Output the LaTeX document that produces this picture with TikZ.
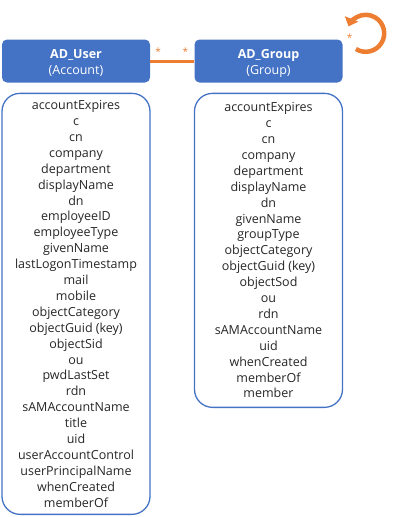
\documentclass[tikz,border=0pt]{standalone}
\usepackage{fontspec}
\setmainfont{Open Sans}
\usetikzlibrary{positioning,arrows.meta}
\definecolor{hdblue}{HTML}{4472C4}
\definecolor{relorange}{HTML}{ED7D31}
\definecolor{txtgray}{HTML}{262626}

\begin{document}
\begin{tikzpicture}[x=1pt,y=-1pt,node distance=192.5pt,
    entity/.style={rectangle,rounded corners=5pt,fill=hdblue,text=white,minimum width=148pt,minimum height=43pt,align=center,inner sep=0pt,text height=29.5pt,text depth=3.5pt,font=\fontsize{12.5}{16}\selectfont},
    attrs/.style={rectangle,rounded corners=18pt,draw=hdblue,line width=1.3pt,minimum width=148pt,align=center,text=txtgray,inner sep=0pt,font=\fontsize{12.5}{15.9}\selectfont},
    star/.style={text=relorange,font=\fontsize{10}{10}\selectfont,inner sep=0pt}]

    \useasboundingbox (0,0) rectangle (400,517);

    \node[entity] (U) at (76,61) {\textbf{AD\_User}\\(Account)};
    \node[entity, right of=U] (G) {\textbf{AD\_Group}\\(Group)};

    \node[attrs, minimum height=421pt, below=10pt of U] (Uattr) {accountExpires\\c\\cn\\company\\department\\displayName\\dn\\employeeID\\employeeType\\givenName\\lastLogonTimestamp\\mail\\mobile\\objectCategory\\objectGuid (key)\\objectSid\\ou\\pwdLastSet\\rdn\\sAMAccountName\\title\\uid\\userAccountControl\\userPrincipalName\\whenCreated\\memberOf};
    \node[attrs, minimum height=314pt, below=10pt of G] (Gattr) {accountExpires\\c\\cn\\company\\department\\displayName\\dn\\givenName\\groupType\\objectCategory\\objectGuid (key)\\objectSod\\ou\\rdn\\sAMAccountName\\uid\\whenCreated\\memberOf\\member};

    % many-to-many
    \path[draw,relorange,line width=3pt]
    (U) edge node[star, above=4pt, pos=0.18] {*} node[star, above=4pt, pos=0.8] {*} (G);

    % group nesting
    \coordinate (loop) at ([shift={(23,-6)}]G.north east);
    \node[star] (Gstar) at ([shift={(7,-2)}]G.north east) {*};
    \draw[relorange,line width=4.5pt,-{Triangle[length=8pt,width=14pt]}]
    ([shift={(122:18.5)}]loop) arc[start angle=122,end angle=-158,radius=18.5];
\end{tikzpicture}
\end{document}
